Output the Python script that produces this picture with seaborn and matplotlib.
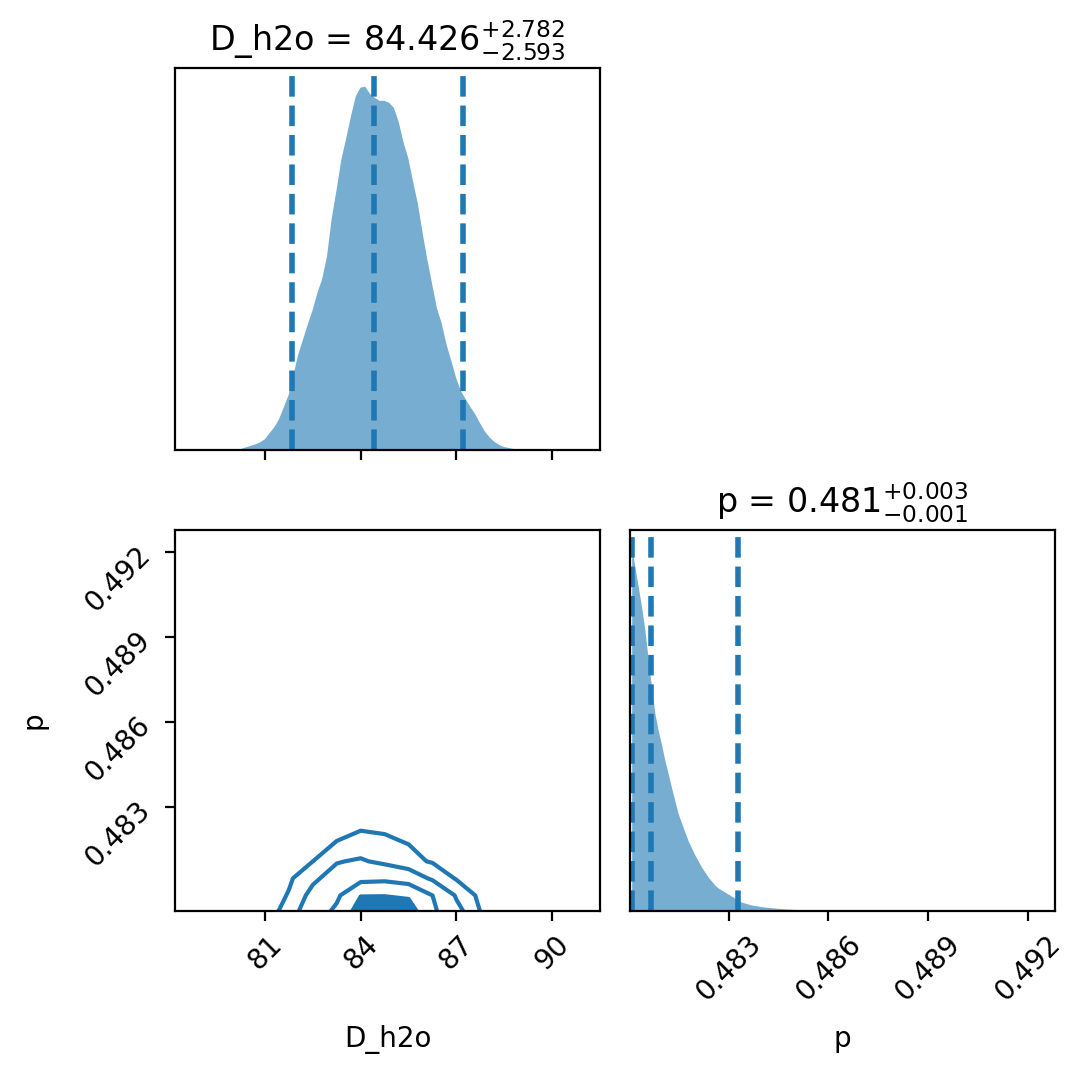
import numpy as np
import pandas as pd
import matplotlib
matplotlib.use("Agg")
import matplotlib.pyplot as plt
import seaborn as sns

# ---- data ----
# D_h2o marginal histogram (bins of 0.15 from 80.0 to 89.0)
d_h2o_counts = [0.5, 1.5, 3, 4.5, 6, 8, 11, 17, 23, 31,
                43, 55, 75, 95, 110, 125, 139, 156, 170, 192,
                230, 258, 288, 309, 331, 351, 360, 361, 354, 350,
                347, 347, 345, 340, 326, 306, 290, 267, 245, 216,
                189, 165, 141, 126, 105, 89, 72, 59, 51, 43,
                36, 27, 19, 13, 8.5, 5.5, 3.5, 2.5, 1.5, 0.8]
d_h2o_range = (80.0, 89.0)

# p marginal histogram (bins of 0.0001 from 0.48003)
p_counts = [362, 343, 323, 303, 280, 250, 223, 197, 180, 166,
            150, 137, 123, 110, 97, 88, 79, 70, 63, 56,
            50, 44, 39, 34, 30, 26, 23, 21, 19, 17,
            15, 13, 11, 9, 8, 7, 6, 5.5, 5, 4.5,
            4, 3.6, 3.3, 3, 2.7, 2.4, 2.2, 2.0, 1.8, 1.6,
            1.4, 1.3, 1.2, 1.1, 1.0, 0.9]
p_range = (0.48003, 0.48563)

# 16/50/84 % quantiles
d_h2o_quantiles = [81.833, 84.426, 87.208]
p_quantiles = [0.48010, 0.48066, 0.48328]

# 2D density table (rows: p, columns: D_h2o), relative to peak
grid_d_h2o = [80.25, 81.0, 81.75, 82.5, 83.25, 84.0, 84.75, 85.5, 86.25, 87.0, 87.75, 88.5]
grid_p = [0.4793, 0.4799, 0.4805, 0.4811, 0.4817, 0.4823, 0.4829]
density_2d = [
    [0.01, 0.05, 0.18, 0.36, 0.56, 0.95, 1.00, 0.95, 0.55, 0.31, 0.12, 0.03],
    [0.01, 0.04, 0.13, 0.30, 0.45, 0.79, 0.79, 0.76, 0.50, 0.23, 0.09, 0.02],
    [0.01, 0.03, 0.10, 0.22, 0.32, 0.42, 0.44, 0.37, 0.22, 0.11, 0.05, 0.01],
    [0.00, 0.02, 0.06, 0.12, 0.24, 0.27, 0.21, 0.15, 0.11, 0.06, 0.02, 0.00],
    [0.00, 0.01, 0.03, 0.07, 0.13, 0.16, 0.15, 0.12, 0.08, 0.04, 0.01, 0.00],
    [0.00, 0.005, 0.015, 0.04, 0.08, 0.11, 0.10, 0.08, 0.05, 0.02, 0.005, 0.00],
    [0.00, 0.002, 0.008, 0.02, 0.04, 0.06, 0.055, 0.045, 0.03, 0.01, 0.003, 0.00],
]
contour_levels = [0.12, 0.25, 0.5, 0.8]

d_h2o_ticks = [81, 84, 87, 90]
p_ticks = [0.483, 0.486, 0.489, 0.492]
d_h2o_lim = (78.18, 91.5)
p_lim_hist = (0.48003, 0.49282)
p_lim_2d = (0.47935, 0.49278)

# ---- figure ----
W, H = 1085, 1074
fig = plt.figure(figsize=(W / 200, H / 200), dpi=200)


def px_axes(left, top, right, bottom):
    return fig.add_axes([left / W, 1 - bottom / H, (right - left) / W, (bottom - top) / H])


ax_top = px_axes(175, 68, 600, 450)
ax_2d = px_axes(175, 530, 600, 911)
ax_p = px_axes(630, 530, 1055, 911)


def marginal(ax, counts, rng, quantiles):
    n = len(counts)
    step = (rng[1] - rng[0]) / n
    df = pd.DataFrame({"center": [rng[0] + step * (i + 0.5) for i in range(n)],
                       "count": counts})
    sns.histplot(data=df, x="center", weights="count", bins=n, binrange=rng,
                 element="poly", fill=True, color="C0", alpha=0.6, linewidth=0, ax=ax)
    for q in quantiles:
        ax.axvline(q, color="C0", ls="--", lw=2)
    ax.set_ylim(0, 1.05 * max(counts))
    ax.set_yticks([])
    ax.set_xlabel("")
    ax.set_ylabel("")


# D_h2o marginal
marginal(ax_top, d_h2o_counts, d_h2o_range, d_h2o_quantiles)
ax_top.set_xlim(*d_h2o_lim)
ax_top.set_xticks(d_h2o_ticks)
ax_top.set_xticklabels([])
ax_top.set_title(r"D_h2o = $84.426^{+2.782}_{-2.593}$", fontsize=12)

# p marginal
marginal(ax_p, p_counts, p_range, p_quantiles)
ax_p.set_xlim(*p_lim_hist)
ax_p.set_xticks(p_ticks)
ax_p.set_xticklabels([f"{t:.3f}" for t in p_ticks], rotation=45)
ax_p.set_title(r"p = $0.481^{+0.003}_{-0.001}$", fontsize=12)
ax_p.set_xlabel("p", fontsize=10)
ax_p.xaxis.set_label_coords(0.5, -0.3)

# joint contours
ax_2d.contour(grid_d_h2o, grid_p, density_2d, levels=contour_levels,
              colors="C0", linewidths=1.5)
ax_2d.contourf(grid_d_h2o, grid_p, density_2d, levels=[contour_levels[-1], 10],
               colors="C0")
ax_2d.set_xlim(*d_h2o_lim)
ax_2d.set_ylim(*p_lim_2d)
ax_2d.set_xticks(d_h2o_ticks)
ax_2d.set_xticklabels([str(t) for t in d_h2o_ticks], rotation=45)
ax_2d.set_yticks(p_ticks)
ax_2d.set_yticklabels([f"{t:.3f}" for t in p_ticks], rotation=45)
ax_2d.set_xlabel("D_h2o", fontsize=10)
ax_2d.set_ylabel("p", fontsize=10)
ax_2d.xaxis.set_label_coords(0.5, -0.3)
ax_2d.yaxis.set_label_coords(-0.3, 0.5)

fig.savefig("out.png", dpi=200, facecolor="white")
